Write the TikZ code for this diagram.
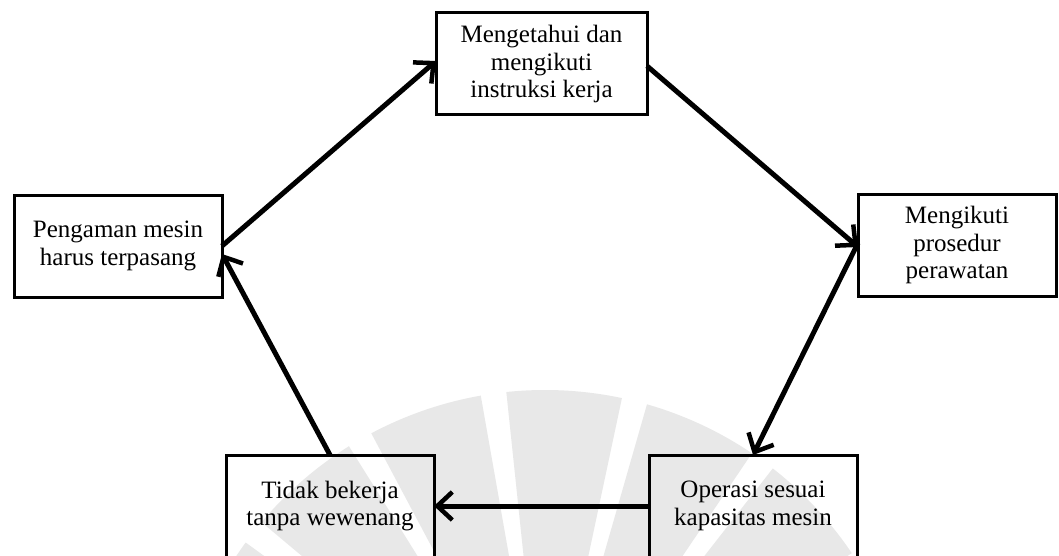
\documentclass[tikz,border=0pt]{standalone}
\usepackage{fontspec}
\setmainfont{Liberation Serif}
\usetikzlibrary{arrows.meta}
\begin{document}
\begin{tikzpicture}[x=1pt,y=-1pt,
  box/.style={draw=black, line width=3pt, outer sep=0pt, inner sep=0pt,
    align=center, font=\fontsize{25}{27.5}\selectfont, minimum height=102pt},
  flow/.style={line width=5pt, -{Straight Barb[length=15pt,width=28pt,line width=4.5pt]}},
  wm/.style={fill=black!9, draw=none}]
\clip (0,0) rectangle (1059,556);
\fill[white] (0,0) rectangle (1059,556);
% faint watermark behind the lower boxes
\begin{scope}[shift={(545,760)}]
  \foreach \a/\b in {-100/-118, -122/-140, -144/-162, -78/-96, -56/-74, -34/-52}
    \fill[wm] (0,0) -- (\a:370) arc[start angle=\a, end angle=\b, radius=370] -- cycle;
\end{scope}
\node[box, minimum width=211pt] (top) at (541.5,64) {Mengetahui dan\\mengikuti\\instruksi kerja};
\node[box, minimum width=208pt] (left) at (118,246) {Pengaman mesin\\harus terpasang};
\node[box, minimum width=198pt] (right) at (957,245) {Mengikuti\\prosedur\\perawatan};
\node[box, minimum width=208pt] (bl) at (330,506) {Tidak bekerja\\tanpa wewenang};
\node[box, minimum width=208pt] (br) at (753,506) {Operasi sesuai\\kapasitas mesin};
\draw[flow] (left.east) -- ([yshift=3pt]top.west);
\draw[flow] ([yshift=-2pt]top.east) -- ([yshift=-2pt]right.west);
\draw[flow] ([yshift=2pt]right.west) -- (br.north);
\draw[flow] (br.west) -- (bl.east);
\draw[flow] (bl.north) -- ([yshift=-8pt]left.east);
\end{tikzpicture}
\end{document}
